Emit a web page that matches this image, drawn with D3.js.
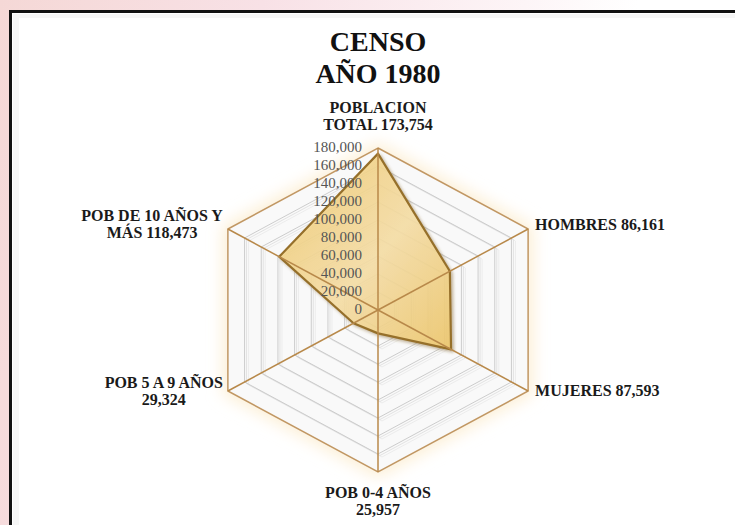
<!DOCTYPE html>
<html>
<head>
<meta charset="utf-8">
<script src="https://cdn.jsdelivr.net/npm/d3@7"></script>
<style>
  html, body { margin: 0; padding: 0; overflow: hidden; }
  body { width: 735px; height: 525px; background: #fff; }
  svg { display: block; }
</style>
</head>
<body>
<svg id="chart" width="735" height="525"></svg>
<script>
// chart data
const categories = ["POBLACION\nTOTAL", "HOMBRES", "MUJERES", "POB 0-4 AÑOS\n", "POB 5 A 9 AÑOS\n", "POB DE 10 AÑOS Y\nMÁS"];
const values = [173754, 86161, 87593, 25957, 29324, 118473];
const tickValues = [0, 20000, 40000, 60000, 80000, 100000, 120000, 140000, 160000, 180000];
const titleLines = ["CENSO", "AÑO 1980"];

const svg = d3.select("#chart");
const W = 735, H = 525;
const cx = 378, cy = 310;
const sx = 1.07; // the picture is a little wider than tall
const fmt = d3.format(",");

const r = d3.scaleLinear().domain([0, 180000]).range([0, 162]);
const angle = d3.scaleLinear().domain([0, categories.length]).range([0, 2 * Math.PI]);

function pt(i, v) {
  const a = angle(i);
  return [cx + r(v) * Math.sin(a) * sx, cy - r(v) * Math.cos(a)];
}

const defs = svg.append("defs");

// pinkish page background behind the framed sheet
const bg = defs.append("linearGradient").attr("id", "bg")
    .attr("x1", 0).attr("y1", 0).attr("x2", 1).attr("y2", 0.15);
bg.append("stop").attr("offset", "0%").attr("stop-color", "#f5d8d6");
bg.append("stop").attr("offset", "35%").attr("stop-color", "#f8e1e6");
bg.append("stop").attr("offset", "70%").attr("stop-color", "#fdf5f7");
bg.append("stop").attr("offset", "85%").attr("stop-color", "#ffffff");

const grad = defs.append("linearGradient").attr("id", "gold")
    .attr("x1", 0).attr("y1", 0).attr("x2", 1).attr("y2", 1);
grad.append("stop").attr("offset", "0%").attr("stop-color", "#f3cd70");
grad.append("stop").attr("offset", "55%").attr("stop-color", "#f9e1a8");
grad.append("stop").attr("offset", "100%").attr("stop-color", "#f0c96c");

const shadow = defs.append("filter").attr("id", "shadow")
    .attr("x", "-20%").attr("y", "-20%").attr("width", "140%").attr("height", "140%");
shadow.append("feDropShadow").attr("dx", 2).attr("dy", 2).attr("stdDeviation", 1.5)
    .attr("flood-color", "#7a5a20").attr("flood-opacity", 0.45);

const glow = defs.append("filter").attr("id", "glow")
    .attr("x", "-20%").attr("y", "-20%").attr("width", "140%").attr("height", "140%");
glow.append("feGaussianBlur").attr("stdDeviation", 8);

svg.append("rect").attr("width", W).attr("height", H).attr("fill", "url(#bg)");
svg.append("rect").attr("x", 10).attr("y", 11).attr("width", W).attr("height", H).attr("fill", "#fff");
svg.append("rect").attr("x", 13).attr("y", 14).attr("width", 6).attr("height", H).attr("fill", "#f6f6f6");
svg.append("rect").attr("x", 13).attr("y", 14).attr("width", W).attr("height", 4).attr("fill", "#f6f6f6");
svg.append("path")
    .attr("d", `M10.5,${H} V11.5 H${W}`)
    .attr("fill", "none")
    .attr("stroke", "#111")
    .attr("stroke-width", 3);

const ring = v => d3.range(categories.length).map(i => pt(i, v));
const line = d3.line().curve(d3.curveLinearClosed);

// soft cream halo behind the web
svg.append("path")
    .attr("d", line(ring(186000)))
    .attr("fill", "#fcefd6")
    .attr("filter", "url(#glow)");

svg.append("path")
    .attr("d", line(ring(180000)))
    .attr("fill", "#f9f9f9");

// grid rings, each with soft shadow lines
const grid = svg.append("g");
tickValues.slice(1, -1).forEach(v => {
  grid.append("path")
      .attr("d", line(ring(v)))
      .attr("transform", "translate(4,3)")
      .attr("fill", "none")
      .attr("stroke", "#ececec")
      .attr("stroke-width", 1);
  grid.append("path")
      .attr("d", line(ring(v)))
      .attr("transform", "translate(2,1.5)")
      .attr("fill", "none")
      .attr("stroke", "#e2e2e2")
      .attr("stroke-width", 1);
  grid.append("path")
      .attr("d", line(ring(v)))
      .attr("fill", "none")
      .attr("stroke", "#cccccc")
      .attr("stroke-width", 1);
});

// outer ring
svg.append("path")
    .attr("d", line(ring(180000)))
    .attr("fill", "none")
    .attr("stroke", "#c19763")
    .attr("stroke-width", 1.5);

// data area
svg.append("path")
    .attr("d", line(values.map((v, i) => pt(i, v))))
    .attr("fill", "url(#gold)")
    .attr("fill-opacity", 0.85)
    .attr("stroke", "#96702c")
    .attr("stroke-width", 2.2)
    .attr("stroke-linejoin", "round")
    .attr("filter", "url(#shadow)");

// spokes
svg.append("g").selectAll("line")
  .data(categories)
  .join("line")
    .attr("x1", cx).attr("y1", cy)
    .attr("x2", (d, i) => pt(i, 180000)[0])
    .attr("y2", (d, i) => pt(i, 180000)[1])
    .attr("stroke", "#b8894a")
    .attr("stroke-width", 1.5);

// radial tick labels
svg.append("g").selectAll("text")
  .data(tickValues)
  .join("text")
    .attr("x", cx - 16)
    .attr("y", d => cy - r(d) - 1)
    .attr("text-anchor", "end")
    .attr("dominant-baseline", "central")
    .attr("font-family", "Liberation Serif, serif")
    .attr("font-size", 15)
    .attr("fill", "#555")
    .text(d => fmt(d));

// title
svg.append("g").selectAll("text")
  .data(titleLines)
  .join("text")
    .attr("x", cx)
    .attr("y", (d, i) => 51 + i * 32)
    .attr("text-anchor", "middle")
    .attr("font-family", "Liberation Serif, serif")
    .attr("font-weight", "bold")
    .attr("font-size", 28)
    .attr("fill", "#111")
    .text(d => d);

// category labels
const lh = 17;
categories.forEach((c, i) => {
  const txt = c.endsWith("\n") ? c + fmt(values[i]) : c + " " + fmt(values[i]);
  const lines = txt.split("\n");
  const [vx, vy] = pt(i, 180000);
  const a = angle(i);
  const s = Math.sin(a), co = Math.cos(a);
  const g = svg.append("g")
      .attr("font-family", "Liberation Serif, serif")
      .attr("font-weight", "bold")
      .attr("font-size", 16)
      .attr("fill", "#1a1a1a");
  const t = g.append("text");
  lines.forEach((l, k) => t.append("tspan").attr("x", 0).attr("y", k * lh).text(l));
  const w = d3.max(t.selectAll("tspan").nodes(), n => n.getComputedTextLength());
  let x, y;
  if (Math.abs(s) < 0.01) {
    t.attr("text-anchor", "middle");
    x = vx;
    y = co > 0 ? vy - 35 : vy + 26;
  } else if (s > 0) {
    t.attr("text-anchor", "start");
    x = vx + 7;
    y = vy + (co > 0 ? 0 : 4) - (lines.length - 1) * lh / 2 + 1;
  } else {
    t.attr("text-anchor", "middle");
    x = vx - 5 - w / 2;
    y = vy + (co > 0 ? -8 : -3);
  }
  g.attr("transform", `translate(${x},${y})`);
});
</script>
</body>
</html>
